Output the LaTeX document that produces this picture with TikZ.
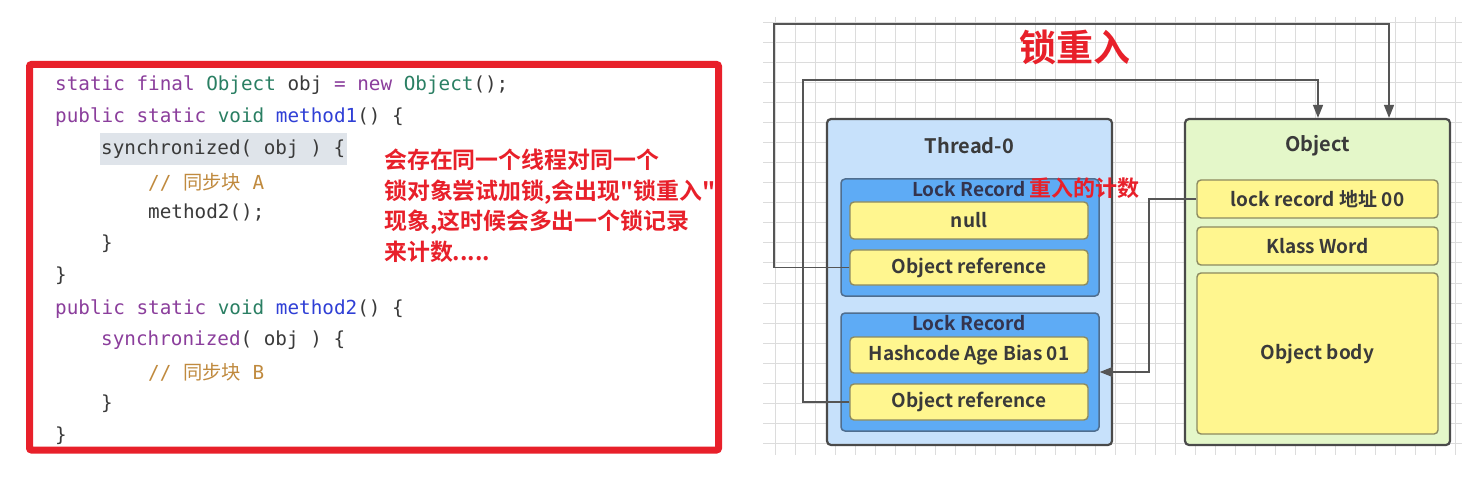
\documentclass[tikz,border=0pt]{standalone}
\usepackage{fontspec}
\usetikzlibrary{arrows.meta}
\setmainfont{Noto Sans CJK SC}[BoldFont={Noto Sans CJK SC Bold}]
\newfontfamily\codefont{DejaVu Sans Mono}
\newfontfamily\cjkfont{Noto Sans CJK SC}
\newfontfamily\redfont{Noto Sans CJK SC Bold}
\definecolor{kwc}{HTML}{8B3E9C}
\definecolor{tyc}{HTML}{2A7F63}
\definecolor{fnc}{HTML}{2F3FD6}
\definecolor{cmc}{HTML}{C08A3E}
\definecolor{txc}{HTML}{3A3A3A}
\definecolor{hlc}{HTML}{DFE4EA}
\definecolor{redc}{HTML}{E8202A}
\definecolor{gridc}{HTML}{DCDCDC}
\definecolor{threadfill}{HTML}{C7E1FB}
\definecolor{lrfill}{HTML}{5EABF5}
\definecolor{lrdraw}{HTML}{4F6E8F}
\definecolor{objfill}{HTML}{E4F7C9}
\definecolor{yelfill}{HTML}{FFF68F}
\definecolor{yeldraw}{HTML}{8C8A60}
\definecolor{boxdraw}{HTML}{4A4A4A}
\definecolor{conc}{HTML}{555555}
\newcommand\jkw[1]{\textcolor{kwc}{#1}}
\newcommand\jty[1]{\textcolor{tyc}{#1}}
\newcommand\jfn[1]{\textcolor{fnc}{#1}}
\newcommand\jcm[1]{\textcolor{cmc}{#1}}
\tikzset{
  codeline/.style={anchor=west, inner sep=0pt, text=txc, font=\codefont\fontsize{19.3}{20}\selectfont},
  bigbox/.style={draw=boxdraw, line width=2.2pt, rounded corners=4pt},
  lrbox/.style={draw=lrdraw, fill=lrfill, line width=1.5pt, rounded corners=4pt, minimum width=258pt, inner sep=0pt},
  yelbox/.style={draw=yeldraw, fill=yelfill, line width=1.4pt, rounded corners=4pt, inner sep=0pt,
    text=txc, font=\bfseries\fontsize{19}{22}\selectfont},
  boxtitle/.style={inner sep=0pt, text=txc, font=\bfseries\fontsize{20}{22}\selectfont},
  lrtitle/.style={inner sep=0pt, text=txc!90!blue, font=\bfseries\fontsize{19}{22}\selectfont},
  conn/.style={draw=conc, line width=1.3pt},
  arr/.style={-{Triangle[length=13pt,width=10pt]}},
  gridln/.style={draw=gridc, line width=1pt}
}
\begin{document}
\begin{tikzpicture}[x=1pt,y=-1pt]
\useasboundingbox (0,0) rectangle (1465,481);
\fill[white] (0,0) rectangle (1465,481);
% grid background
\foreach \gx in {775,795,...,1455} \draw[gridln] (\gx,17) -- (\gx,455);
\foreach \gy in {23,43,...,453} \draw[gridln] (763,\gy) -- (1462,\gy);

% code panel
\fill[hlc] (100,133) rectangle (347,165);
\node[codeline] (l1) at (55,85) {\jkw{static} \jkw{final} \jty{Object} obj \jkw{=} \jkw{new} \jty{Object}();};
\node[codeline] (l2) at (55,117) {\jkw{public} \jkw{static} \jty{void} \jfn{method1}() \{};
\node[codeline] (l3) at (101,149) {synchronized( obj ) \{};
\node[codeline] (l4) at (148,182) {\jcm{// {\cjkfont 同步块} A}};
\node[codeline] (l5) at (148,213) {method2();};
\node[codeline] (l6) at (101,244) {\}};
\node[codeline] (l7) at (55,276) {\}};
\node[codeline] (l8) at (55,309) {\jkw{public} \jkw{static} \jty{void} \jfn{method2}() \{};
\node[codeline] (l9) at (101,340) {\jkw{synchronized}( obj ) \{};
\node[codeline] (l10) at (148,372) {\jcm{// {\cjkfont 同步块} B}};
\node[codeline] (l11) at (101,404) {\}};
\node[codeline] (l12) at (55,436) {\}};

\node[anchor=north west, inner sep=0pt, align=left, text=redc,
  font=\redfont\fontsize{22.9}{30.5}\selectfont] (note) at (384,149)
  {会存在同一个线程对同一个\\锁对象尝试加锁,会出现"锁重入"\\现象,这时候会多出一个锁记录\\来计数.....};

\draw[redc, line width=7pt, rounded corners=2pt] (29.5,64.5) rectangle (718.5,450);

% title
\node[inner sep=0pt, text=redc, font=\redfont\fontsize{37}{40}\selectfont] (title) at (1075,47) {锁重入};

% Thread-0
\node[bigbox, fill=threadfill, minimum width=285pt, minimum height=326pt, inner sep=0pt] (thread) at (969.5,282) {};
\node[boxtitle] (threadt) at (969.5,146) {Thread-0};
\node[lrbox, minimum height=117pt] (lr1) at (970,237.5) {};
\node[lrtitle] (lr1t) at (969,189) {Lock Record};
\node[yelbox, minimum width=238pt, minimum height=37pt] (null) at (969,220.5) {null};
\node[yelbox, minimum width=238pt, minimum height=35pt] (oref1) at (969,267.5) {Object reference};
\node[lrbox, minimum height=118pt] (lr2) at (970,372) {};
\node[lrtitle] (lr2t) at (969,323) {Lock Record};
\node[yelbox, minimum width=238pt, minimum height=36pt] (hash) at (969,355) {Hashcode Age Bias 01};
\node[yelbox, minimum width=238pt, minimum height=36pt] (oref2) at (969,402) {Object reference};

\node[anchor=west, inner sep=0pt, text=redc, font=\redfont\fontsize{22}{24}\selectfont] (cnt) at (1029,188) {重入的计数};

% Object
\node[bigbox, fill=objfill, minimum width=265pt, minimum height=326pt, inner sep=0pt] (object) at (1317.5,282) {};
\node[boxtitle] (objectt) at (1317.5,146) {Object};
\node[yelbox, minimum width=241pt, minimum height=38pt] (lraddr) at (1317.5,199) {lock record 地址 00};
\node[yelbox, minimum width=241pt, minimum height=38pt] (klass) at (1317.5,246) {Klass Word};
\node[yelbox, minimum width=241pt, minimum height=161pt] (body) at (1317.5,353.5) {Object body};

% connectors
\coordinate (c1a) at (774,24);
\coordinate (c1b) at (1389,24);
\draw[conn, arr] (oref1.west) -| (c1a) -- (c1b) -- (c1b |- object.north);
\coordinate (c2a) at (803,80);
\coordinate (c2b) at (1318,80);
\draw[conn, arr] (oref2.west) -| (c2a) -- (c2b) -- (c2b |- object.north);
\coordinate (c3a) at (1149,199);
\draw[conn, arr] (lraddr.west) -- (c3a) |- (lr2.east);
\end{tikzpicture}
\end{document}
